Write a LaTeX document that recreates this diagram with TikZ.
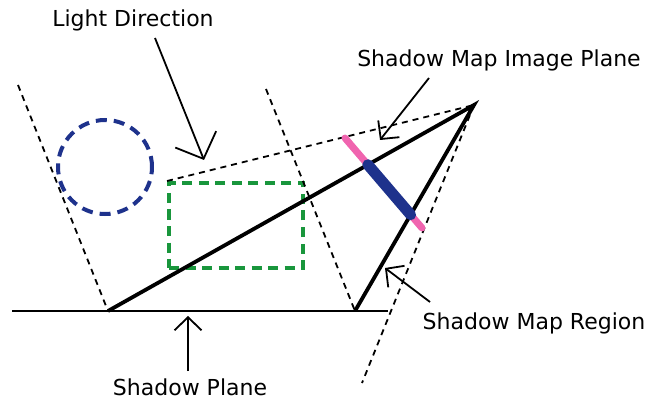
\documentclass[tikz,border=0pt]{standalone}
\usepackage{fontspec}
\setmainfont{DejaVu Sans}
\usetikzlibrary{arrows.meta}
\definecolor{ballblue}{RGB}{30,50,140}
\definecolor{boxgreen}{RGB}{25,150,60}
\definecolor{planepink}{RGB}{240,100,175}
\begin{document}
\begin{tikzpicture}[x=1pt, y=-1pt, font=\fontsize{22}{26}\selectfont,
  guide/.style={dash pattern=on 6pt off 5pt, line width=1.8pt},
  ray/.style={line width=3.8pt},
  pointer/.style={-{Straight Barb[length=13pt, width=27pt]}, line width=1.8pt},
  label/.style={inner sep=0pt}]
\useasboundingbox (0,0) rectangle (653,406);
\coordinate (light) at (474,105);
\coordinate (hitA) at (108,311);
\coordinate (hitB) at (355,311);
\coordinate (planeL) at (12,311);
\coordinate (planeR) at (388,311);
\coordinate (edgeL) at (18,85);
\coordinate (edgeM) at (266,89);
\coordinate (frust) at (362,383);
\coordinate (imgA) at (345,138);
\coordinate (imgB) at (422,228);
\node[draw=ballblue, circle, minimum size=94pt, line width=4pt, dash pattern=on 11pt off 7pt] (ball) at (105,167) {};
\node[draw=boxgreen, minimum width=134pt, minimum height=85pt, line width=4pt, dash pattern=on 10pt off 6.5pt] (box) at (236,225.5) {};
\draw[line width=2pt] (planeL) -- (planeR);
\draw[guide] (edgeL) -- (hitA);
\draw[guide] (edgeM) -- (hitB);
\draw[guide] (box.north west) -- (light);
\draw[guide] (light) -- (frust);
\draw[ray] (hitA) -- (light) -- (hitB);
\draw[planepink, line width=7pt, line cap=round] (imgA) -- (imgB);
\draw[ballblue, line width=11pt, line cap=round] (intersection of light--hitA and imgA--imgB) -- (intersection of light--hitB and imgA--imgB);
\node[label] (ldir) at (133,20) {Light Direction};
\node[label] (smip) at (499,60) {Shadow Map Image Plane};
\node[label] (smr) at (534,323) {Shadow Map Region};
\node[label] (splane) at (190,387) {Shadow Plane};
\coordinate (ldTail) at (155,38);
\coordinate (ldTip) at (204,160);
\coordinate (smipTail) at (429,78);
\coordinate (smipTip) at (380,140);
\coordinate (smrTail) at (430,302);
\coordinate (smrTip) at (385,268);
\coordinate (spTail) at (188,371);
\coordinate (spTip) at (188,316);
\draw[pointer, -{Straight Barb[length=21pt, width=44pt]}] (ldTail) -- (ldTip);
\draw[pointer] (smipTail) -- (smipTip);
\draw[pointer] (smrTail) -- (smrTip);
\draw[pointer] (spTail) -- (spTip);
\end{tikzpicture}
\end{document}
